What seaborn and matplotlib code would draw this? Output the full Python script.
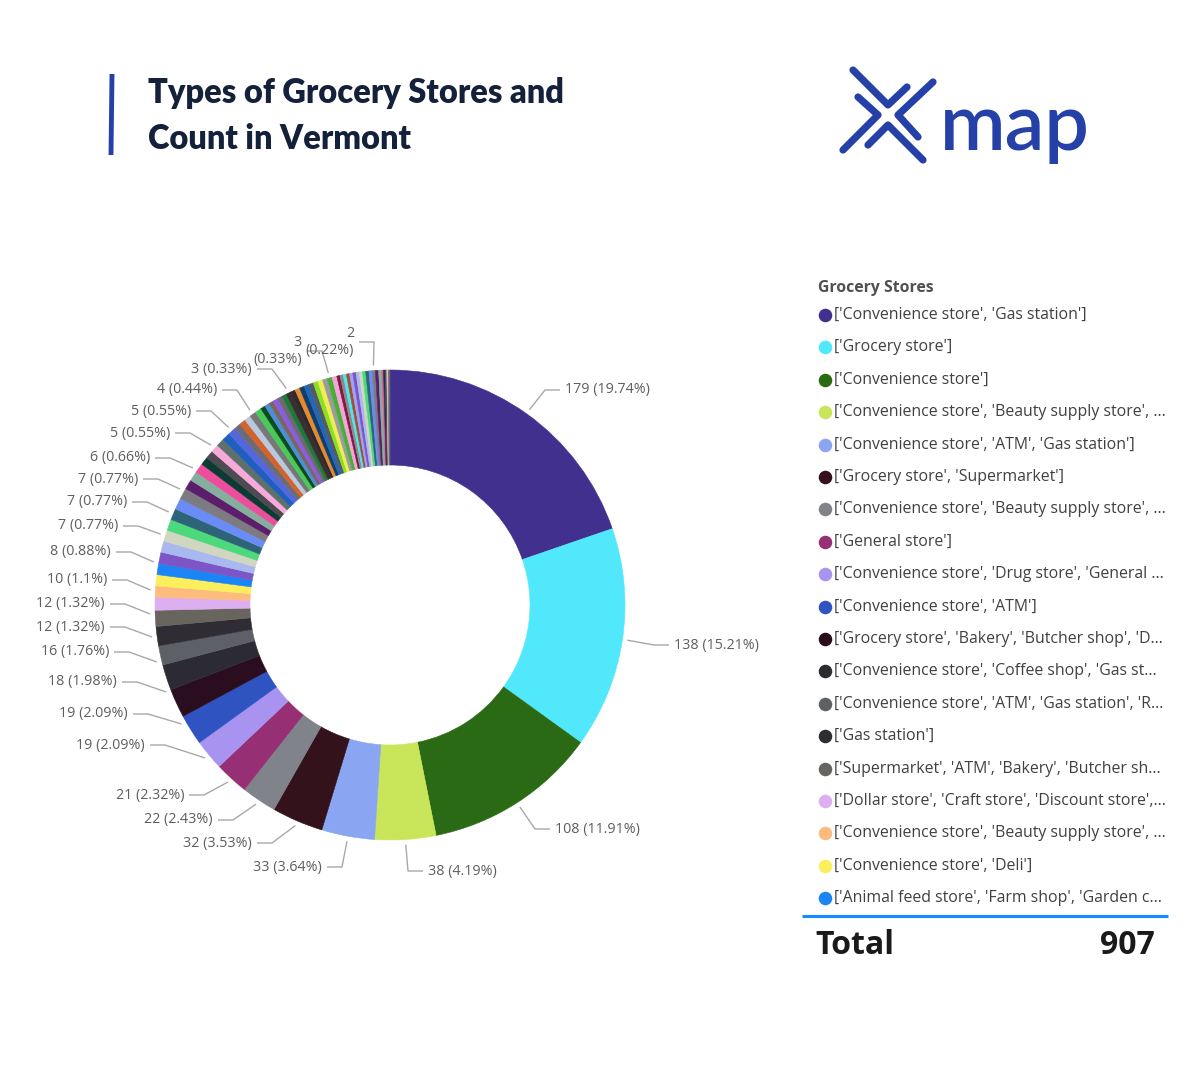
import numpy as np
import matplotlib
matplotlib.use("Agg")
import matplotlib.pyplot as plt
import seaborn as sns

# data (total 907)
store_counts = [179, 138, 108, 38, 33, 32, 22, 21, 19, 19, 18, 16, 12, 12, 10, 8,
                7, 7, 7, 7, 7, 7, 7, 7, 7, 7,
                6, 6, 6,
                5, 5, 5, 5, 5, 5,
                4, 4, 4, 4, 4,
                3, 3, 3, 3, 3, 3, 3, 3, 3, 3, 3, 3, 3, 3, 3, 3, 3,
                2, 2, 2, 2, 2, 2, 2, 2, 2, 2, 2, 2, 2, 2,
                1, 1, 1, 1, 1]

legend_names = [
    "['Convenience store', 'Gas station']",
    "['Grocery store']",
    "['Convenience store']",
    "['Convenience store', 'Beauty supply store', ...",
    "['Convenience store', 'ATM', 'Gas station']",
    "['Grocery store', 'Supermarket']",
    "['Convenience store', 'Beauty supply store', ...",
    "['General store']",
    "['Convenience store', 'Drug store', 'General ...",
    "['Convenience store', 'ATM']",
    "['Grocery store', 'Bakery', 'Butcher shop', 'D...",
    "['Convenience store', 'Coffee shop', 'Gas st...",
    "['Convenience store', 'ATM', 'Gas station', 'R...",
    "['Gas station']",
    "['Supermarket', 'ATM', 'Bakery', 'Butcher sh...",
    "['Dollar store', 'Craft store', 'Discount store',...",
    "['Convenience store', 'Beauty supply store', ...",
    "['Convenience store', 'Deli']",
    "['Animal feed store', 'Farm shop', 'Garden c...",
]

# slices that carry a data label in the reference
labeled_slices = [0, 1, 2, 3, 4, 5, 6, 7, 8, 9, 10, 11, 12, 13, 14, 15,
                  21, 23, 25, 27, 31, 34, 38, 46, 55, 68]

# label layout (pixel coords in the 1200x1080 image)
label_x = [565, 674, 555, 428, 322, 252, 213, 184, 145, 128, 117, 109, 105, 105, 107, 111,
           118, 127, 138, 150, 170, 191, 217, 252, 302, 354]
label_y = [390, 645, 829, 871, 867, 843, 820, 795, 745, 714, 682, 652, 627, 604, 580, 552,
           526, 502, 479, 458, 433, 411, 390, 369, 351, 342]
wrapped = [55, 68]

main_colors = ["#41308E", "#52E8FB", "#2A6A14", "#C9E55A", "#8AA6F2", "#33121C", "#808389",
               "#962F74", "#A894F0", "#2F54C2", "#2A0E20", "#2C2B33", "#5E6068", "#2F2D33",
               "#68655F", "#DDAEF0", "#FDBB7E", "#FCEF5C", "#1B85F5"]
extra_colors = ["#7D55C7", "#A9B8EE", "#D0D6C0", "#4CD97B", "#2D6478", "#6A8CF6", "#7E7A82",
                "#5C1D6A", "#86AE9E", "#EC4E9C", "#0B3B33", "#4D4A52", "#F7A9D9", "#5E706C",
                "#1F5FBF", "#5567DD", "#6D6B73", "#D3622B", "#B8C8DE", "#777777", "#4AC95B",
                "#0D4A1E", "#4A90D8", "#7B6563", "#8C5BE3", "#6C6A70", "#1F7A3A", "#3C2E30",
                "#2F2A2C", "#E58A2E", "#123D6B", "#2168B8", "#545A66", "#8CE020", "#F0EC55",
                "#9A9AA0", "#45B034", "#F3A5D6", "#7E1844", "#8B8B8B", "#4FE3F5", "#A0522D",
                "#9FA3F7"]

sns.set_theme(style="white")
plt.rcParams["font.family"] = ["Open Sans", "DejaVu Sans"]

n = len(store_counts)
palette = sns.color_palette(main_colors + [extra_colors[i % len(extra_colors)] for i in range(n - len(main_colors))])

W, H = 1200, 1080
fig = plt.figure(figsize=(12, 10.8), dpi=100)
ax = fig.add_axes([0, 0, 1, 1])

def Y(y):
    return H - y

cx, cy, R, ring = 390, 605, 235, 95
wedges, _ = ax.pie(store_counts, radius=R, center=(cx, Y(cy)), startangle=90,
                   counterclock=False, colors=palette,
                   wedgeprops=dict(width=ring, linewidth=0))
for w, c in zip(wedges, palette):
    w.set_edgecolor(c)
    w.set_linewidth(0.4)

ax.set_xlim(0, W)
ax.set_ylim(0, H)
ax.set_aspect("equal")
ax.axis("off")

# data labels with leader lines
total = sum(store_counts)
cum = np.cumsum(store_counts)
label_col = "#605E5C"
line_col = "#A8A8A8"
for k, idx in enumerate(labeled_slices):
    v = store_counts[idx]
    mid = cum[idx] - v / 2
    theta = np.deg2rad(mid / total * 360)
    r0 = R + 5
    px = cx + r0 * np.sin(theta)
    py = cy - r0 * np.cos(theta)
    tx, ty = label_x[k], label_y[k]
    # crowded labels on the far left: leader line stays close to the label row
    if px < 200 and abs(py - ty) > 10:
        py = ty + 10 * np.sign(py - ty)
        px = cx - np.sqrt(r0 ** 2 - (py - cy) ** 2)
    pct = f"{round(v / total * 100, 2):g}"
    if idx in wrapped:
        txt = f"{v}\n({pct}%)"
    else:
        txt = f"{v} ({pct}%)"
    ha = "left" if tx > cx else "right"
    sgn = -1 if ha == "left" else 1
    ax.plot([px, tx + sgn * 20, tx + sgn * 5], [Y(py), Y(ty), Y(ty)],
            color=line_col, lw=1.0, solid_capstyle="butt")
    ax.text(tx, Y(ty), txt, ha=ha, va="center", multialignment="right",
            fontsize=10.3, color=label_col, linespacing=1.15)

# title
ax.plot([112, 111], [Y(74), Y(155)], color="#2541A8", lw=3.5, solid_capstyle="butt")
for line, ly in [("Types of Grocery Stores and", 93), ("Count in Vermont", 139)]:
    ax.text(148, Y(ly), line, fontsize=23.5, fontweight="heavy",
            family=["Lato", "DejaVu Sans"], color="#14213A", va="center", ha="left")

# logo
logo_col = "#2541A8"
strokes = [
    ([853, 888, 907], [70, 105, 87]),
    ([858, 878, 843], [97, 115, 150]),
    ([933, 898, 918], [82, 115, 137]),
    ([868, 888, 923], [145, 125, 160]),
]
for xs, ys in strokes:
    ax.plot(xs, [Y(v) for v in ys], color=logo_col, lw=5.2,
            solid_capstyle="round", solid_joinstyle="round")
ax.text(940, Y(121), "map", fontsize=57, color=logo_col, fontweight="semibold",
        family=["Lato", "DejaVu Sans"], va="center_baseline", ha="left")

# legend
ax.text(818, Y(288), "Grocery Stores", fontsize=11.3, fontweight="bold", color="#505050",
        va="center", ha="left")
legend_y0, legend_dy = 315, 32.4
for i, name in enumerate(legend_names):
    ly = legend_y0 + i * legend_dy
    ax.scatter([825], [Y(ly)], s=95, color=palette[i], linewidths=0, zorder=3)
    ax.text(834, Y(ly), name, fontsize=11.4, color="#404040", va="center", ha="left")

ax.plot([802, 1168], [Y(916), Y(916)], color="#118DFF", lw=2.2, solid_capstyle="butt")
ax.text(815, Y(946), "Total", fontsize=23, fontweight="bold", color="#1A1A1A",
        va="center", ha="left")
ax.text(1155, Y(946), f"{total}", fontsize=23, fontweight="bold", color="#1A1A1A",
        va="center", ha="right")

fig.savefig("out.png", dpi=100, facecolor="white")
